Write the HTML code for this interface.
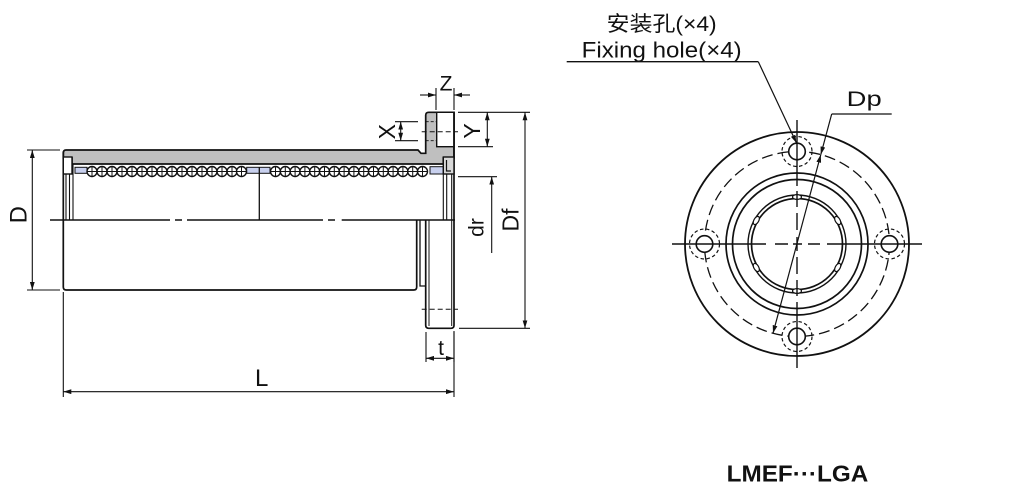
<!DOCTYPE html>
<html><head><meta charset="utf-8"><style>
html,body{margin:0;padding:0;background:#fff;}
svg{display:block;}
text{font-family:"Liberation Sans","Noto Sans CJK SC",sans-serif;fill:#111;}
</style></head><body>
<svg width="1009" height="490" viewBox="0 0 1009 490" xmlns="http://www.w3.org/2000/svg">
<defs>
<marker id="ar" viewBox="0 0 10 6" refX="10" refY="3" markerWidth="8" markerHeight="5" markerUnits="userSpaceOnUse" orient="auto-start-reverse"><path d="M0,0 L10,3 L0,6 Z" fill="#111"/></marker>
<g id="ball"><circle cx="0" cy="0" r="5" fill="#fff" stroke="#111" stroke-width="1.4"/><path d="M-5,0H5M0,-5V5" stroke="#111" stroke-width="1"/></g>
</defs>
<rect width="1009" height="490" fill="#fff"/>

<!-- ===== LEFT VIEW ===== -->
<g stroke="#111" fill="none" stroke-linecap="butt">
  <path d="M66,150 H418 L421,153.3 H425.7 V115.3 Q425.7,112.3 428.7,112.3 H454 V158 H443.3 V164 H72 V158 H63.3 V153 Q63.3,150 66,150 Z" fill="#bfbfbf" stroke-width="1.7"/>
  <rect x="436.7" y="112.3" width="17.3" height="34.4" fill="#fff" stroke-width="1.4"/>
  <path d="M421.7,131.7 H458" stroke-width="1" stroke-dasharray="5 3"/>
  <path d="M425.7,121.7 H436.7 M425.7,140.7 H436.7" stroke-width="0.9" stroke-dasharray="3 2"/>

  <rect x="75" y="167.3" width="12" height="6" fill="#c8d0ee" stroke-width="1"/>
  <rect x="246.7" y="167.3" width="23.3" height="6" fill="#c8d0ee" stroke-width="1"/>
  <rect x="430" y="166.7" width="13.3" height="7.3" fill="#c8d0ee" stroke-width="1"/>

  <path d="M63.3,152 V287 Q63.3,290 66.3,290 H413.7 Q416.7,290 416.7,287 V220" stroke-width="1.7"/>
  <path d="M420,220 V286 H425.7" stroke-width="1.3"/>
  <path d="M425.7,220 V325.3 Q425.7,328.3 428.7,328.3 H451 Q454,328.3 454,325.3 V112.3" stroke-width="1.7"/>
  <path d="M429,220 V326 M451.7,220 V326" stroke-width="1"/>
  <path d="M421.7,309.3 H458" stroke-width="1" stroke-dasharray="5 3"/>

  <rect x="63.3" y="157" width="8.7" height="17" fill="#fff" stroke-width="1.4"/>
  <path d="M66,174 V220 M69.5,174 V220 M73,164 V220" stroke-width="1.1"/>
  <rect x="443.3" y="157" width="10.7" height="17" fill="#d8d8d8" stroke-width="1.4"/>
  <path d="M446.5,160 V171 H451" stroke-width="1.2"/>
  <path d="M443.3,174 V220 M446.7,174 V220 M451.7,174 V220" stroke-width="1.1"/>
  <path d="M259.3,167.3 V220" stroke-width="1.3"/>

  <path d="M50,220 H170 M175,220 H182 M187,220 H323 M328,220 H335 M341.7,220 H455" stroke-width="1.4"/>
</g>
<g>
<use href="#ball" x="92" y="171.5"/><use href="#ball" x="102" y="171.5"/><use href="#ball" x="112" y="171.5"/><use href="#ball" x="122" y="171.5"/>
<use href="#ball" x="132" y="171.5"/><use href="#ball" x="142" y="171.5"/><use href="#ball" x="152" y="171.5"/><use href="#ball" x="162" y="171.5"/>
<use href="#ball" x="172" y="171.5"/><use href="#ball" x="182" y="171.5"/><use href="#ball" x="192" y="171.5"/><use href="#ball" x="202" y="171.5"/>
<use href="#ball" x="212" y="171.5"/><use href="#ball" x="222" y="171.5"/><use href="#ball" x="232" y="171.5"/><use href="#ball" x="241.5" y="171.5"/>
<use href="#ball" x="275.5" y="171.5"/><use href="#ball" x="285.3" y="171.5"/><use href="#ball" x="295.1" y="171.5"/><use href="#ball" x="304.9" y="171.5"/>
<use href="#ball" x="314.7" y="171.5"/><use href="#ball" x="324.5" y="171.5"/><use href="#ball" x="334.3" y="171.5"/><use href="#ball" x="344.1" y="171.5"/>
<use href="#ball" x="353.9" y="171.5"/><use href="#ball" x="363.7" y="171.5"/><use href="#ball" x="373.5" y="171.5"/><use href="#ball" x="383.3" y="171.5"/>
<use href="#ball" x="393.1" y="171.5"/><use href="#ball" x="402.9" y="171.5"/><use href="#ball" x="412.7" y="171.5"/><use href="#ball" x="422.5" y="171.5"/>
</g>

<g stroke="#111" fill="none" stroke-width="1.1">
  <path d="M27,150 H60 M27,290 H60"/>
  <path d="M32.3,150 V290" marker-start="url(#ar)" marker-end="url(#ar)"/>
  <path d="M63.3,292 V397 M454,331 V397"/>
  <path d="M63.3,391.7 H454" marker-start="url(#ar)" marker-end="url(#ar)"/>
  <path d="M426,332 V362 M454,332 V362"/>
  <path d="M426,358.3 H454" marker-start="url(#ar)" marker-end="url(#ar)"/>
  <path d="M436,88 V110 M454,88 V110"/>
  <path d="M420,95 H436" marker-end="url(#ar)"/>
  <path d="M470,95 H454" marker-end="url(#ar)"/>
  <path d="M395,121.7 H418 M395,140.7 H418"/>
  <path d="M400.7,121.7 V140.7" marker-start="url(#ar)" marker-end="url(#ar)"/>
  <path d="M458,112.3 H493 M458,146.7 H493"/>
  <path d="M487.3,112.3 V146.7" marker-start="url(#ar)" marker-end="url(#ar)"/>
  <path d="M458,176.7 H497"/>
  <path d="M491.7,253 V176.7" marker-end="url(#ar)"/>
  <path d="M493,112.3 H530 M459,328.3 H530"/>
  <path d="M525,112.3 V328.3" marker-start="url(#ar)" marker-end="url(#ar)"/>
</g>
<text transform="translate(26.5,214.7) rotate(-90)" font-size="24" text-anchor="middle">D</text>
<text x="261.7" y="386" font-size="24" text-anchor="middle">L</text>
<text x="441" y="355" font-size="21" text-anchor="middle">t</text>
<text x="446" y="90.5" font-size="21" text-anchor="middle">Z</text>
<text transform="translate(395,131.7) rotate(-90)" font-size="23" text-anchor="middle">X</text>
<text transform="translate(480,131) rotate(-90)" font-size="23" text-anchor="middle">Y</text>
<text transform="translate(483.3,227.5) rotate(-90)" font-size="21" text-anchor="middle">dr</text>
<text transform="translate(518.3,220) rotate(-90)" font-size="23" text-anchor="middle">Df</text>

<!-- ===== RIGHT VIEW ===== -->
<g stroke="#111" fill="none">
  <circle cx="797" cy="244" r="112" stroke-width="1.8"/>
  <circle cx="797" cy="244" r="92.5" stroke-width="1.3" stroke-dasharray="11 5"/>
  <circle cx="797" cy="244" r="71" stroke-width="1.7"/>
  <circle cx="797" cy="244" r="64.5" stroke-width="1.7"/>
  <circle cx="797" cy="244" r="49" stroke-width="1.4"/>
  <circle cx="797" cy="244" r="45.5" stroke-width="1.7"/>
  <g fill="#fff" stroke-width="1.2">
    <ellipse cx="797" cy="197" rx="4.5" ry="2.4"/>
    <ellipse cx="797" cy="291" rx="4.5" ry="2.4"/>
    <ellipse cx="837.7" cy="220.5" rx="4.5" ry="2.4" transform="rotate(60 837.7 220.5)"/>
    <ellipse cx="837.7" cy="267.5" rx="4.5" ry="2.4" transform="rotate(-60 837.7 267.5)"/>
    <ellipse cx="756.3" cy="220.5" rx="4.5" ry="2.4" transform="rotate(-60 756.3 220.5)"/>
    <ellipse cx="756.3" cy="267.5" rx="4.5" ry="2.4" transform="rotate(60 756.3 267.5)"/>
  </g>
  <g stroke-width="1.6" fill="#fff">
    <circle cx="797" cy="151.5" r="8.3"/>
    <circle cx="797" cy="336.5" r="8.3"/>
    <circle cx="704.5" cy="244" r="8.3"/>
    <circle cx="889.5" cy="244" r="8.3"/>
  </g>
  <g stroke-width="1.2" stroke-dasharray="3.5 2.5">
    <circle cx="797" cy="151.5" r="15"/>
    <circle cx="797" cy="336.5" r="15"/>
    <circle cx="704.5" cy="244" r="15"/>
    <circle cx="889.5" cy="244" r="15"/>
  </g>
  <path d="M672,244 H766 M775,244 H788 M793,244 H802 M808,244 H820 M827,244 H922" stroke-width="1.4"/>
  <path d="M797,120 V186 M797,191 V207 M797,213 V230 M797,237 V251 M797,257 V274 M797,280 V296 M797,302 V368" stroke-width="1.4"/>
  <path d="M831.7,114 H891.7" stroke-width="1.3"/>
  <path d="M831.7,114 L820.8,154.6" stroke-width="1.2" marker-end="url(#ar)"/>
  <path d="M820.8,154.6 L773,333.3" stroke-width="1.2" marker-start="url(#ar)" marker-end="url(#ar)"/>
  <path d="M566.7,61.7 H758.3" stroke-width="1.3"/>
  <path d="M758.3,61.7 L796.5,143" stroke-width="1.2" marker-end="url(#ar)"/>
</g>
<text x="846.7" y="106" font-size="21" textLength="35" lengthAdjust="spacingAndGlyphs">Dp</text>
<text x="606.7" y="31" font-size="21" textLength="110" lengthAdjust="spacingAndGlyphs">安装孔(×4)</text>
<text x="581.7" y="57.5" font-size="22" textLength="160" lengthAdjust="spacingAndGlyphs">Fixing hole(×4)</text>
<text x="726.7" y="481.7" font-size="23" font-weight="bold" textLength="141.6" lengthAdjust="spacingAndGlyphs">LMEF···LGA</text>
</svg>
</body></html>
